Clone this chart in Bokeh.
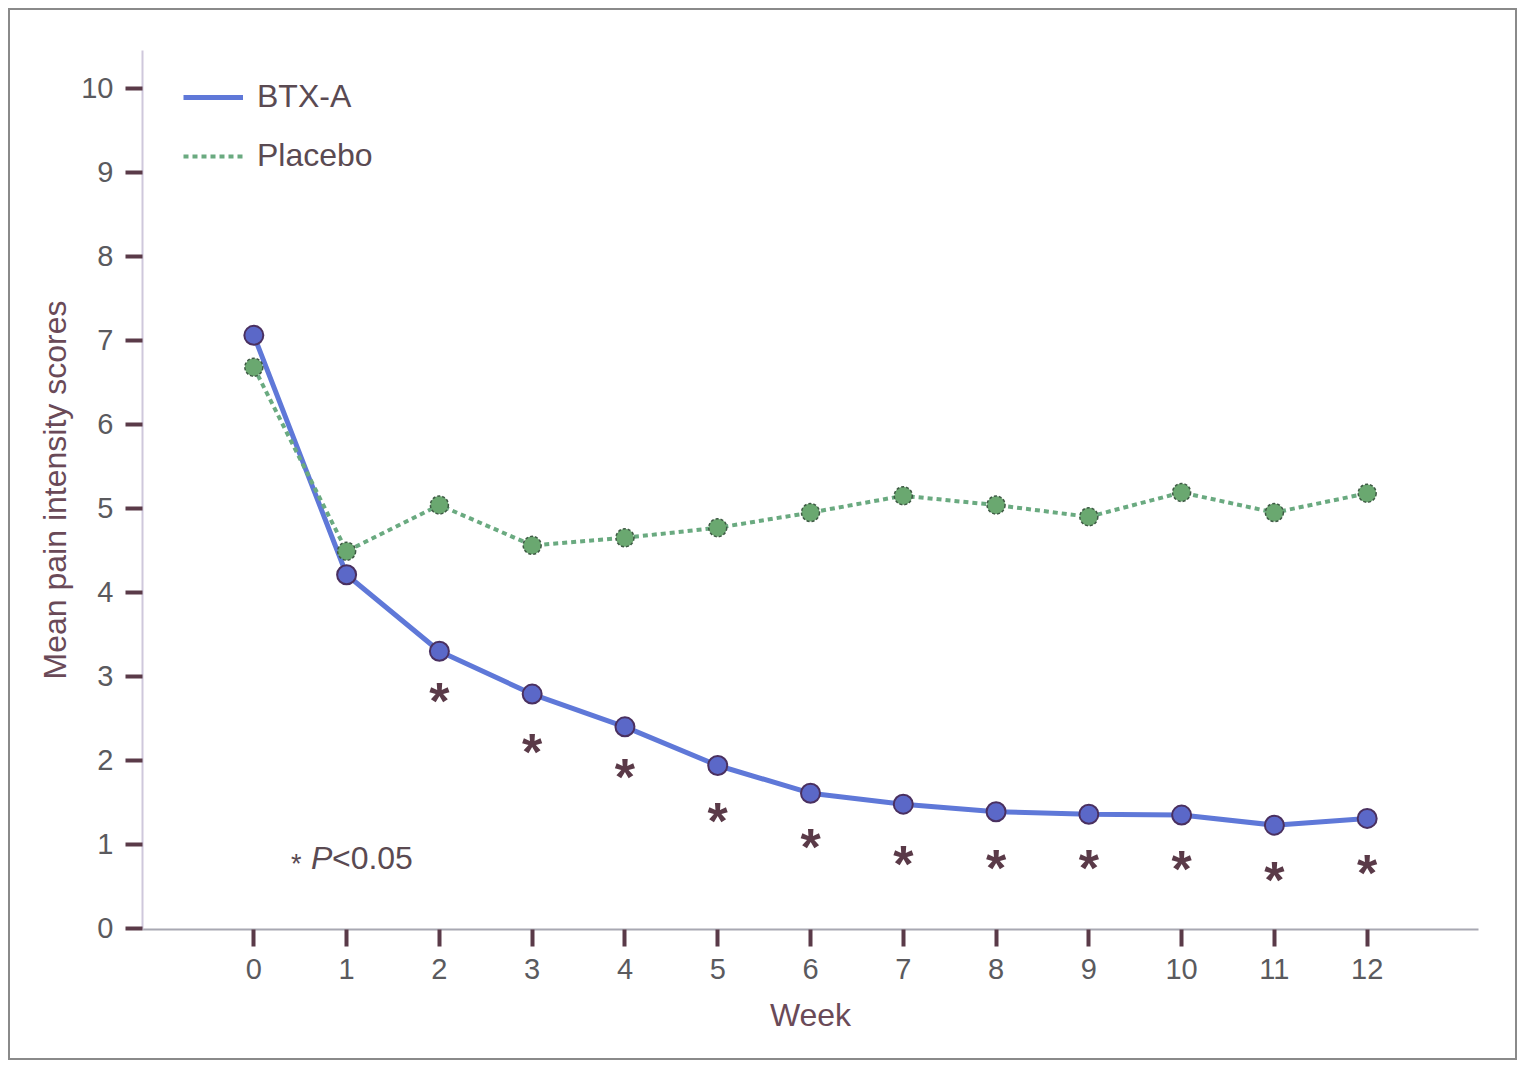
from bokeh.plotting import figure
from bokeh.models import Range1d, FixedTicker, Legend, LegendItem, Label
from bokeh.core.properties import value
from bokeh.embed import file_html
from bokeh.resources import INLINE

weeks = [0, 1, 2, 3, 4, 5, 6, 7, 8, 9, 10, 11, 12]
btx = [7.06, 4.21, 3.30, 2.79, 2.40, 1.94, 1.61, 1.48, 1.39, 1.36, 1.35, 1.23, 1.31]
placebo = [6.68, 4.49, 5.04, 4.56, 4.65, 4.77, 4.95, 5.15, 5.04, 4.90, 5.19, 4.95, 5.18]
star_weeks = [2, 3, 4, 5, 6, 7, 8, 9, 10, 11, 12]
star_y = [2.80, 2.20, 1.90, 1.37, 1.07, 0.86, 0.82, 0.82, 0.80, 0.67, 0.76]
y_ticks = [0, 1, 2, 3, 4, 5, 6, 7, 8, 9, 10]
x_ticks = weeks

FONT = "Liberation Sans"
TXT = "#5a4a52"

p = figure(width=1509, height=1052, output_backend="svg", toolbar_location=None,
           x_range=Range1d(-1.2, 13.2), y_range=Range1d(-0.012, 10.45),
           min_border_left=132, min_border_right=41, min_border_top=40, min_border_bottom=133)
p.styles = {"border": "2px solid #8a8a8a", "margin-left": "8px", "margin-top": "8px"}
p.outline_line_color = None
p.xgrid.grid_line_color = None
p.ygrid.grid_line_color = None
p.background_fill_color = "white"
p.border_fill_color = "white"

# axes
p.yaxis.ticker = FixedTicker(ticks=y_ticks)
p.xaxis.ticker = FixedTicker(ticks=x_ticks)
for ax in (p.xaxis[0], p.yaxis[0]):
    ax.major_tick_in = 0
    ax.major_tick_out = 17
    ax.major_tick_line_width = 4
    ax.major_tick_line_color = "#5a3a48"
    ax.minor_tick_line_color = None
    ax.major_label_text_font = FONT
    ax.major_label_text_font_size = "29px"
    ax.major_label_text_color = "#5a5a5e"
    ax.major_label_standoff = 12
    ax.axis_label_text_font = FONT
    ax.axis_label_text_font_style = "normal"
    ax.axis_label_text_font_size = "32px"
    ax.axis_label_text_color = "#6a4a58"
p.yaxis.axis_line_color = "#cfc8dc"
p.yaxis.axis_line_width = 2
p.xaxis.axis_line_color = "#a8a8b2"
p.xaxis.axis_line_width = 2
p.yaxis.axis_label = "Mean pain intensity scores"
p.yaxis.axis_label_standoff = 5
p.xaxis.axis_label = "Week"
p.xaxis.axis_label_standoff = 15

# series
r_btx = p.line(weeks, btx, line_color="#5f78d8", line_width=5)
p.scatter(weeks, btx, size=19, fill_color="#5b68c8", line_color="#4a3060", line_width=2)
r_pl = p.line(weeks, placebo, line_color="#6aaa80", line_width=4, line_dash="5 4")
p.scatter(weeks, placebo, size=18, fill_color="#6aa870", line_color="#3e5a44",
          line_width=1.5, line_dash="3 2")

# significance asterisks
p.text(star_weeks, star_y, text=["*"] * len(star_weeks), text_font=value(FONT),
       text_font_size="52px", text_font_style="bold", text_color="#5a3a48",
       text_align="center", text_baseline="alphabetic", y_offset=8)

# legend
legend = Legend(items=[LegendItem(label="BTX-A", renderers=[r_btx]),
                       LegendItem(label="Placebo", renderers=[r_pl])],
                location=(41, 755), orientation="vertical",
                glyph_width=60, glyph_height=34, label_height=34, spacing=22,
                label_standoff=14, padding=0, margin=0,
                border_line_color=None, background_fill_alpha=0,
                label_text_font=FONT, label_text_font_size="32px", label_text_color=TXT)
p.add_layout(legend)

# P-value note
p.add_layout(Label(x=0.40, y=0.62, text="*", text_font=FONT, text_font_size="27px",
                   text_color=TXT, y_offset=-3))
p.add_layout(Label(x=0.40, y=0.62, x_offset=20, text="P", text_font=FONT,
                   text_font_size="32px", text_font_style="italic", text_color=TXT))
p.add_layout(Label(x=0.40, y=0.62, x_offset=41, text="<0.05", text_font=FONT,
                   text_font_size="32px", text_color=TXT))

open("out.html", "w").write(file_html(p, INLINE))
